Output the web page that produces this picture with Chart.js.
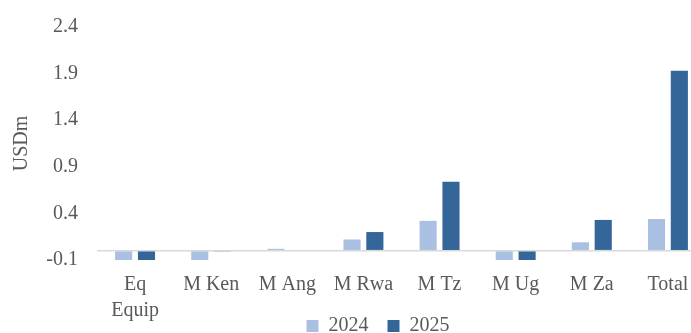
<!DOCTYPE html>
<html>
<head>
<meta charset="utf-8">
<script src="https://cdn.jsdelivr.net/npm/chart.js@4/dist/chart.umd.min.js"></script>
<style>
  html, body { margin: 0; padding: 0; background: #fff; overflow: hidden; }
  /* the original is cropped on the right and bottom, so the chart is bigger than the window */
  #clip { width: 691px; height: 333px; overflow: hidden; }
  #wrap { width: 706px; height: 385px; }
</style>
</head>
<body>
<div id="clip"><div id="wrap"><canvas id="chart"></canvas></div></div>
<script>
    // data
    const categories = [['Eq', 'Equip'], 'M Ken', 'M Ang', 'M Rwa', 'M Tz', 'M Ug', 'M Za', 'Total'];
    const values2024 = [-0.1, -0.1, 0.02, 0.12, 0.32, -0.1, 0.09, 0.34];
    const values2025 = [-0.1, -0.01, 0, 0.20, 0.74, -0.1, 0.33, 1.93];
    const yTicks = [-0.1, 0.4, 0.9, 1.4, 1.9, 2.4];

    const textColor = '#595959';
    const fontFamily = "'Liberation Serif', 'DejaVu Serif', serif";

    // place the legend like the original (right of centre, partly cut at the bottom)
    const legendShift = {
        id: 'legendShift',
        afterLayout(chart) {
            const lg = chart.legend;
            if (!lg) return;
            const h = lg.height;
            lg.left += 23;
            lg.right += 23;
            lg.top = 297;
            lg.bottom = lg.top + h;
        }
    };

    const ctx = document.getElementById('chart').getContext('2d');
    new Chart(ctx, {
        type: 'bar',
        data: {
            labels: categories,
            datasets: [
                {
                    label: '2024',
                    data: values2024,
                    backgroundColor: '#a9c0e2',
                    barPercentage: 0.75,
                    categoryPercentage: 0.6
                },
                {
                    label: '2025',
                    data: values2025,
                    backgroundColor: '#346699',
                    barPercentage: 0.75,
                    categoryPercentage: 0.6
                }
            ]
        },
        plugins: [legendShift],
        options: {
            responsive: true,
            maintainAspectRatio: false,
            animation: false,
            layout: { padding: { top: 27, right: 0, left: 4, bottom: 0 } },
            plugins: {
                legend: {
                    position: 'bottom',
                    labels: {
                        color: textColor,
                        font: { family: fontFamily, size: 20 },
                        boxWidth: 12,
                        boxHeight: 12,
                        padding: 19
                    }
                },
                tooltip: { enabled: false }
            },
            scales: {
                x: {
                    grid: { display: false, drawTicks: false },
                    border: { display: false },
                    ticks: {
                        color: textColor,
                        font: { family: fontFamily, size: 20, lineHeight: 1.3 },
                        maxRotation: 0,
                        autoSkip: false,
                        padding: 12
                    }
                },
                y: {
                    min: -0.1,
                    max: 2.4,
                    border: { display: false },
                    afterBuildTicks: axis => {
                        // ticks from the picture plus the zero line
                        axis.ticks = yTicks.concat([0]).map(v => ({ value: v }));
                    },
                    afterFit: axis => {
                        axis.paddingTop = 0;
                        axis.paddingBottom = 0;
                        axis.width = 93;
                    },
                    grid: {
                        drawTicks: false,
                        color: c => (c.tick && c.tick.value === 0) ? '#d9d9d9' : 'rgba(0,0,0,0)',
                        lineWidth: 1.5
                    },
                    ticks: {
                        color: textColor,
                        font: { family: fontFamily, size: 20 },
                        padding: 19,
                        callback: v => v === 0 ? '' : v.toFixed(1)
                    },
                    title: {
                        display: true,
                        text: 'USDm',
                        color: textColor,
                        font: { family: fontFamily, size: 20 },
                        padding: { top: 6, bottom: 12 }
                    }
                }
            }
        }
    });
</script>
</body>
</html>
